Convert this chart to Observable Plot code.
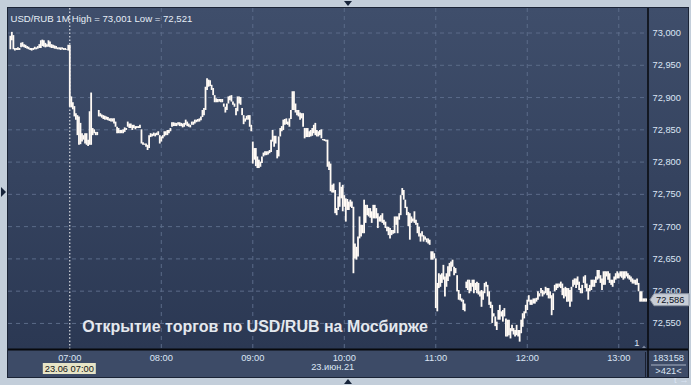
<!DOCTYPE html>
<html><head><meta charset="utf-8">
<script src="https://cdn.jsdelivr.net/npm/d3@7"></script>
<script src="https://cdn.jsdelivr.net/npm/@observablehq/plot@0.6"></script>
<style>
html,body{margin:0;padding:0;background:#c3ceda;}
body{width:691px;height:385px;overflow:hidden;position:relative;}
#chart{position:absolute;left:0;top:0;}
</style></head><body><div id="chart"></div>
<script>
// ---- data ----
const symbolText = "USD/RUB 1M";
const highLowText = "High = 73,001 Low = 72,521";
const noteText = "Открытие торгов по USD/RUB на Мосбирже";
const startMinute = 381;          // first bar 06:21 (minutes after midnight)
const priceBase = 72.5;           // bar values below are thousandths above this base
const highs = [
495,501,496,476,476,477,476,484,485,482,
481,479,478,476,476,476,478,477,479,482,
488,489,488,484,482,488,486,482,481,480,
479,477,477,477,477,476,476,474,481,481,
401,392,386,375,372,370,360,344,341,344,
344,334,378,407,352,350,346,346,380,375,
373,372,371,370,369,367,367,367,367,362,
354,352,349,349,350,353,352,362,359,359,
357,357,355,355,355,357,350,330,328,328,
326,341,344,343,345,344,345,347,341,339,
341,347,347,349,349,352,361,361,360,360,
361,361,360,359,360,365,362,359,357,362,
362,365,365,366,367,370,380,383,416,429,
427,426,419,414,403,398,397,397,397,397,
390,385,390,401,402,403,393,390,383,401,
401,400,383,372,367,371,372,372,357,331,
321,321,308,303,300,308,314,316,316,316,
318,334,349,340,340,318,339,352,355,365,
366,367,362,367,380,409,409,390,380,380,
376,375,375,352,352,352,347,349,352,357,
360,349,347,349,350,335,335,334,334,300,
297,264,266,256,228,246,268,261,264,248,
243,242,238,241,238,230,173,168,184,215,
202,202,241,233,233,228,228,223,233,233,
228,220,215,217,220,210,207,199,199,197,
194,194,215,215,215,220,248,259,256,241,
230,222,220,215,212,223,210,205,199,189,
192,186,184,181,181,179,161,161,158,150,
112,127,125,127,140,122,127,138,143,145,
148,137,135,124,101,95,88,86,80,114,
117,117,112,117,117,112,114,112,99,101,
99,112,114,109,99,83,78,65,60,52,
70,78,68,70,73,57,55,55,42,47,
42,39,47,39,39,55,65,68,78,86,
93,86,86,88,88,89,99,96,104,101,
99,106,104,104,99,93,96,109,111,111,
111,114,111,104,106,104,104,101,106,117,
119,119,122,114,104,109,122,124,111,104,
109,117,117,117,122,132,132,124,119,130,
130,130,130,127,117,117,122,127,130,127,
130,130,130,130,130,127,124,122,119,117,
117,119,112,99,99,88,88,88];
const lows = [
474,488,474,472,473,473,473,477,478,477,
476,475,474,473,472,473,474,474,475,476,
476,479,478,477,478,478,477,476,476,475,
475,474,474,473,474,473,473,473,472,385,
384,381,370,365,341,326,327,331,334,328,
326,324,326,326,341,344,341,341,370,370,
368,366,365,365,364,363,362,362,359,354,
344,344,344,344,344,346,349,354,352,352,
349,352,350,352,352,352,328,326,326,323,
318,321,338,339,340,339,341,341,328,331,
336,339,341,341,344,347,354,355,355,355,
357,355,355,353,354,357,355,354,353,357,
357,359,361,362,362,364,369,372,380,411,
416,417,411,403,392,392,392,393,392,392,
385,376,380,390,395,393,388,385,372,378,
390,388,372,358,362,365,365,354,347,297,
303,293,290,290,292,298,308,310,310,311,
313,315,331,323,328,305,308,339,347,349,
357,358,357,354,366,380,380,376,372,370,
365,367,354,336,338,338,338,339,340,344,
341,339,339,341,336,333,332,331,292,287,
254,252,252,220,217,225,230,243,223,230,
207,225,225,230,228,127,150,148,153,181,
184,189,189,205,217,215,213,205,212,212,
212,197,207,207,205,202,197,192,186,181,
186,188,189,202,189,210,217,248,241,228,
217,200,179,205,207,205,202,189,184,176,
184,176,179,175,173,171,148,148,150,73,
68,104,106,112,117,91,106,115,122,130,
137,124,127,99,86,85,83,70,68,104,
101,96,99,106,96,101,96,94,91,75,
86,96,106,91,78,73,50,60,45,39,
55,55,60,52,60,29,29,31,26,37,
32,29,31,29,21,34,44,57,65,70,
83,78,78,80,80,83,86,91,96,91,
94,96,93,88,88,62,70,99,101,104,
106,104,93,88,91,83,83,75,83,106,
109,104,109,101,96,96,112,104,99,86,
99,101,106,106,112,117,119,112,101,109,
109,122,117,112,109,106,112,117,119,119,
122,120,117,119,122,119,117,114,111,111,
109,109,99,83,83,83,83,83];
const yTicks = [72.55, 72.60, 72.65, 72.70, 72.75, 72.80, 72.85, 72.90, 72.95, 73.00];
const hourTicks = [420, 480, 540, 600, 660, 720, 780];
const hourLabels = ["07:00", "08:00", "09:00", "10:00", "11:00", "12:00", "13:00"];
const sessionOpen = 420;
const sessionLabel = "23.06 07:00";
const dateTick = 600;
const dateLabel = "23.июн.21";
const lastPrice = 72.586;
const cornerTop = "183158";
const cornerBottom = ">421<";
const pageMarker = "1";

// ---- build ----
const bars = highs.map((h, i) => ({t: startMinute + i, hi: priceBase + h / 1000, lo: priceBase + lows[i] / 1000}));
const fmt = v => d3.format(".3f")(v).replace(".", ",");
const FONT = "'Liberation Sans', Arial, sans-serif";
const LBL = "#dbe5f4";

const plot = Plot.plot({
  width: 691, height: 385,
  marginLeft: 8, marginRight: 43, marginTop: 8, marginBottom: 36,
  style: {background: "none", fontFamily: FONT, fontSize: "9.3px", overflow: "visible"},
  x: {domain: [379.8, 799.5]},
  y: {domain: [72.5096, 73.038]},
  marks: [
    Plot.gridY(yTicks, {stroke: "#5b6b89", strokeOpacity: 1, strokeDasharray: "4,4"}),
    Plot.gridX(hourTicks.filter(t => t !== sessionOpen), {stroke: "#5b6b89", strokeOpacity: 1, strokeDasharray: "4,4"}),
    Plot.ruleX([sessionOpen], {stroke: "#ffffff", strokeDasharray: "1.5,2", strokeWidth: 1}),
    Plot.ruleX(bars, {x: "t", y1: "lo", y2: "hi", stroke: "#fffaf5", strokeWidth: 1.8}),
    Plot.axisY(yTicks, {anchor: "right", tickSize: 0, tickPadding: 4, tickFormat: fmt, fill: LBL, textAnchor: "start"}),
    Plot.axisX(hourTicks, {anchor: "bottom", tickSize: 0, tickPadding: 4.5, tickFormat: d => hourLabels[hourTicks.indexOf(d)], fill: LBL}),
    Plot.text([symbolText], {frameAnchor: "top-left", dx: 2, dy: 7, textAnchor: "start", fill: "#e6edf7", fontSize: 9.6, text: d => d}),
    Plot.text([highLowText], {x: () => sessionOpen, frameAnchor: "top", dx: 2, dy: 7, textAnchor: "start", fill: "#e6edf7", fontSize: 9.6, text: d => d}),
    Plot.text([noteText], {x: () => sessionOpen, frameAnchor: "bottom", dx: 12.5, dy: -18, textAnchor: "start", fill: "#e4e8ee", fontSize: 16, fontWeight: "bold", text: d => d}),
    Plot.text([dateLabel], {x: () => dateTick, frameAnchor: "bottom", dx: 10, dy: 20, textAnchor: "end", fill: LBL, text: d => d}),
    Plot.text([pageMarker], {frameAnchor: "bottom-right", dx: -9, dy: -4, textAnchor: "end", fill: LBL, text: d => d})
  ]
});

// ---- chrome around the plot (panel backgrounds, borders, label boxes) ----
const svg = d3.select(plot);
const defs = svg.insert("defs", ":first-child");
const g = defs.append("linearGradient").attr("id", "bg").attr("x1", 0).attr("x2", 0).attr("y1", 0).attr("y2", 1);
g.append("stop").attr("offset", "0%").attr("stop-color", "#3f4e6b");
g.append("stop").attr("offset", "100%").attr("stop-color", "#2b3853");
const back = svg.insert("g", "defs + *");
back.append("rect").attr("x", 8).attr("y", 8).attr("width", 680).attr("height", 341).attr("fill", "url(#bg)");
back.append("rect").attr("x", 8).attr("y", 349).attr("width", 680).attr("height", 28).attr("fill", "#3d4b67");

const front = svg.append("g");
front.append("rect").attr("x", 7.5).attr("y", 7.5).attr("width", 681).attr("height", 370).attr("fill", "none").attr("stroke", "#1b2436");
front.append("line").attr("x1", 648).attr("x2", 648).attr("y1", 8).attr("y2", 377).attr("stroke", "#07080c").attr("stroke-width", 1.5);
front.append("line").attr("x1", 8).attr("x2", 688).attr("y1", 349.5).attr("y2", 349.5).attr("stroke", "#07080c").attr("stroke-width", 2);
front.append("line").attr("x1", 645.5).attr("x2", 645.5).attr("y1", 352).attr("y2", 377).attr("stroke", "#1a2030");

const xs = plot.scale("x"), ys = plot.scale("y");
const label = (sel, x, y, txt, fill, anchor) => sel.append("text")
  .attr("x", x).attr("y", y).attr("text-anchor", anchor).attr("dy", "0.35em")
  .style("font", "9.3px 'Liberation Sans', Arial, sans-serif").style("fill", fill).text(txt);
// session open label box
const sx = xs.apply(sessionOpen);
front.append("rect").attr("x", sx - 26.5).attr("y", 363).attr("width", 53).attr("height", 11).attr("fill", "#e7e4c6");
label(front, sx, 368.6, sessionLabel, "#151515", "middle");
// last price marker
const ly = ys.apply(lastPrice);
front.append("path").attr("d", `M650,${ly} L654,${ly - 6} L689,${ly - 6} L689,${ly + 6} L654,${ly + 6} Z`)
  .attr("fill", "#c8ced7").attr("stroke", "#8d96a4");
label(front, 656, ly, fmt(lastPrice), "#0d1222", "start");
// corner counters
label(front, 668.5, 357.5, cornerTop, LBL, "middle");
front.append("line").attr("x1", 651).attr("x2", 686).attr("y1", 365).attr("y2", 365).attr("stroke", "#a9b3c4");
label(front, 668.5, 371, cornerBottom, LBL, "middle");
// frame markers
front.append("path").attr("d", "M344,1 L352,1 L348,6 Z").attr("fill", "#17243a");
front.append("path").attr("d", "M344,384 L352,384 L348,379 Z").attr("fill", "#17243a");
front.append("path").attr("d", "M1,187 L1,197 L6,192 Z").attr("fill", "#17243a");
front.append("path").attr("d", "M642,348 L646,348 L644,345.5 Z").attr("fill", "#7f8aa0");

document.getElementById("chart").appendChild(plot);
</script></body></html>
